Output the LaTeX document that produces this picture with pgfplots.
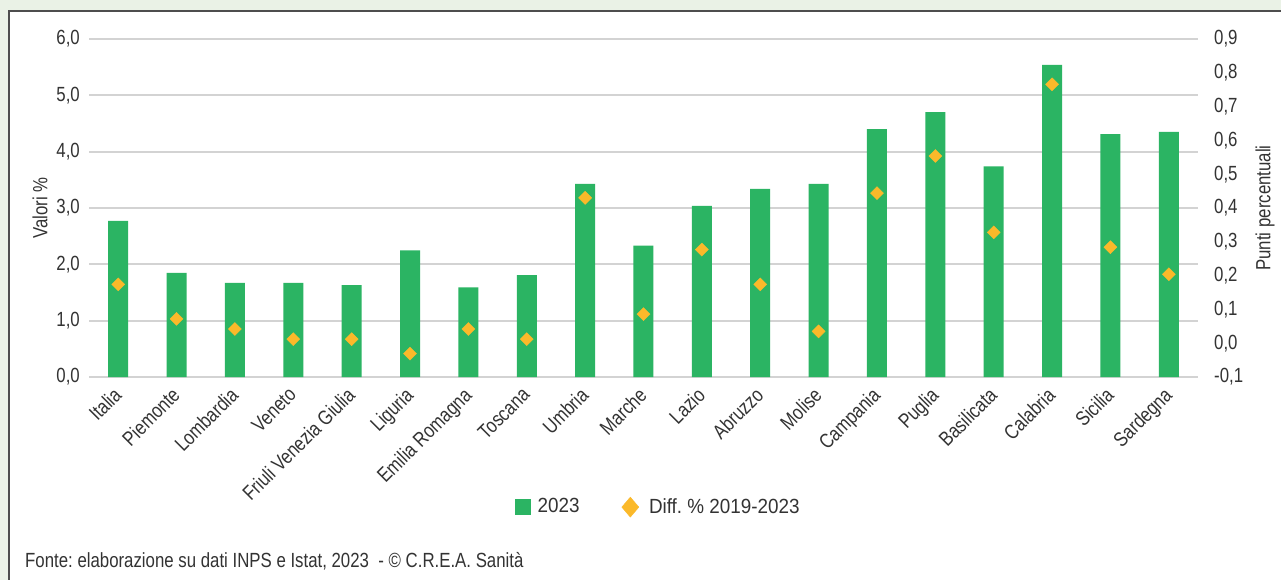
\documentclass[border=0pt]{standalone}
\usepackage{fontspec}
\setmainfont{Liberation Sans}[FakeStretch=0.82]
\newfontfamily\legfont{Liberation Sans}[FakeStretch=0.92]
\usepackage{pgfplots}
\pgfplotsset{compat=1.18}
\definecolor{barg}{HTML}{2BB463}
\definecolor{diam}{HTML}{FBB92A}
\definecolor{gridc}{HTML}{D3D3D3}
\definecolor{txtc}{HTML}{333333}
\definecolor{bgc}{HTML}{EAF2E6}
\definecolor{bordc}{HTML}{4D4D4D}
\newcommand{\fs}{\fontsize{20.5bp}{24bp}\selectfont}
\frenchspacing
\begin{document}
\fs
\begin{tikzpicture}
\useasboundingbox (0,0) rectangle (1281bp,-580bp);
\fill[bgc] (0,0) rectangle (1281bp,-580bp);
\fill[white] (9bp,-11bp) rectangle (1281bp,-580bp);
\draw[bordc, line width=1.5bp] (9bp,-580bp) -- (9bp,-11bp) -- (1281bp,-11bp);
\begin{axis}[
  at={(89bp,-377bp)}, anchor=south west,
  scale only axis, width=1109bp, height=338bp,
  xmin=-0.5, xmax=18.5, ymin=0, ymax=6,
  xtick={0,...,18},
  xticklabels={Italia,Piemonte,Lombardia,Veneto,Friuli Venezia Giulia,Liguria,Emilia Romagna,Toscana,Umbria,Marche,Lazio,Abruzzo,Molise,Campania,Puglia,Basilicata,Calabria,Sicilia,Sardegna},
  ytick={0,1,2,3,4,5,6},
  axis line style={draw=none},
  major tick length=0pt,
  ymajorgrids, grid style={draw=gridc, line width=2bp},
  every tick label/.append style={text=txtc, font=\fs},
  yticklabel style={anchor=east, inner sep=0pt, xshift=-9bp},
  yticklabel style={/pgf/number format/.cd, fixed, fixed zerofill, precision=1, use comma, assume math mode=true},
  xticklabel style={xshift=-6bp, yshift=-9bp, rotate=45, anchor=north east, inner sep=0pt},
  ylabel={Valori \%},
  ylabel style={at={(axis description cs:-0.0442,0.5)}, anchor=center, text=txtc, font=\fs},
]
\addplot[ybar, bar width=20bp, fill=barg, draw=none] coordinates {
(0,2.77) (1,1.85) (2,1.67) (3,1.67) (4,1.63) (5,2.25) (6,1.59) (7,1.81) (8,3.43) (9,2.33)
(10,3.04) (11,3.34) (12,3.43) (13,4.40) (14,4.70) (15,3.74) (16,5.54) (17,4.31) (18,4.35)};
\end{axis}
\begin{axis}[
  at={(89bp,-377bp)}, anchor=south west,
  scale only axis, width=1109bp, height=338bp,
  xmin=-0.5, xmax=18.5, ymin=-0.1, ymax=0.9,
  hide x axis, axis y line*=right,
  axis line style={draw=none},
  major tick length=0pt,
  ytick={-0.1,0,0.1,0.2,0.3,0.4,0.5,0.6,0.7,0.8,0.9},
  every tick label/.append style={text=txtc, font=\fs},
  yticklabel style={anchor=west, inner sep=0pt, xshift=16bp},
  yticklabel style={/pgf/number format/.cd, fixed, fixed zerofill, precision=1, use comma, assume math mode=true},
  ylabel={Punti percentuali},
  ylabel style={at={(axis description cs:1.0604,0.5)}, anchor=center, text=txtc, font=\fs},
  legend style={at={(axis description cs:0.5135,-0.385)}, anchor=center, draw=none, fill=none,
    legend columns=2, font=\legfont\fs, text=txtc,
    /tikz/every even column/.append style={column sep=40bp}},
  legend cell align=left,
]
\addlegendimage{legend image code/.code={\fill[barg] (0bp,-7.5bp) rectangle (15bp,7.5bp); \path (20bp,0bp);}}
\addlegendentry{2023}
\addplot[color=diam, only marks, mark=square*, mark size=4.6bp, mark options={rotate=45, fill=diam, draw=diam},
  legend image code/.code={\fill[diam] (8.5bp,10bp) -- (17bp,0bp) -- (8.5bp,-10bp) -- (0bp,0bp) -- cycle; \path (25bp,0bp);}]
 coordinates {
(0,0.174) (1,0.072) (2,0.042) (3,0.012) (4,0.012) (5,-0.031) (6,0.042) (7,0.012) (8,0.430) (9,0.086)
(10,0.277) (11,0.174) (12,0.035) (13,0.444) (14,0.554) (15,0.328) (16,0.766) (17,0.284) (18,0.204)};
\addlegendentry{Diff. \% 2019-2023}
\end{axis}
\node[anchor=base west, inner sep=0pt, text=txtc, font=\fs] at (25bp,-567bp) {Fonte: elaborazione su dati INPS e Istat, 2023\ \ - © C.R.E.A. Sanità};
\end{tikzpicture}
\end{document}
